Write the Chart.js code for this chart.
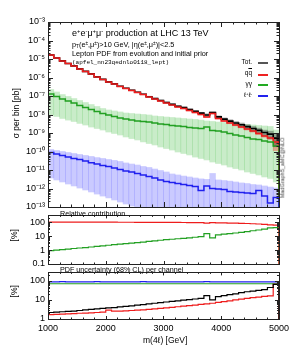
<!DOCTYPE html>
<html><head><meta charset="utf-8">
<script src="https://cdn.jsdelivr.net/npm/chart.js@4.4.1/dist/chart.umd.min.js"></script>
<style>
html,body{margin:0;padding:0;background:#fff;width:293px;height:351px;overflow:hidden;}
#wrap{position:relative;width:293px;height:351px;font-family:"Liberation Sans",Arial,Helvetica,sans-serif;color:#000;}
canvas{position:absolute;left:0;}
.t{position:absolute;white-space:nowrap;line-height:1;}
.t sup{font-size:65%;vertical-align:0.5em;line-height:0;}
.t sub{font-size:65%;vertical-align:-0.25em;line-height:0;}
.rot{transform:rotate(-90deg);transform-origin:center center;}
.lg{position:absolute;height:2px;width:10px;}
</style></head><body><div id="wrap">
<canvas id="c1" width="293" height="216" style="top:0px;width:293px;height:216px"></canvas>
<canvas id="c2" width="293" height="66" style="top:207px;width:293px;height:66px"></canvas>
<canvas id="c3" width="293" height="87" style="top:264px;width:293px;height:87px"></canvas>

<div class="t" style="left:72px;top:29px;font-size:9px;">e<sup>+</sup>e<sup>-</sup>μ<sup>+</sup>μ<sup>-</sup> production at LHC 13 TeV</div>
<div class="t" style="left:72px;top:41px;font-size:7.3px;">p<sub>T</sub>(e<sup>±</sup>,μ<sup>±</sup>)&gt;10 GeV, |η(e<sup>±</sup>,μ<sup>±</sup>)|&lt;2.5</div>
<div class="t" style="left:72px;top:49.5px;font-size:7.3px;">Lepton PDF from evolution and initial prior</div>
<div class="t" style="left:72px;top:60px;font-size:6px;font-family:'Liberation Mono','DejaVu Sans Mono',monospace;">(apfel_nn23qednlo0118_lept)</div>

<div class="t" style="right:41px;top:59px;font-size:6.5px;">Tot.</div>
<div class="lg" style="left:258px;top:62px;background:#555;"></div>
<div class="t" style="right:41px;top:70px;font-size:6.5px;">q<span style="text-decoration:overline">q</span></div>
<div class="lg" style="left:258px;top:74px;background:#ee2222;"></div>
<div class="t" style="right:41px;top:81px;font-size:6.5px;">γγ</div>
<div class="lg" style="left:258px;top:84px;background:#22aa22;"></div>
<div class="t" style="right:41px;top:92px;font-size:6.5px;">ℓ<sup>+</sup>ℓ<sup>-</sup></div>
<div class="lg" style="left:258px;top:95px;background:#2222ee;"></div>

<div class="t" style="left:60px;top:209.5px;font-size:7.2px;">Relative contribution</div>
<div class="t" style="left:60px;top:265.5px;font-size:7.2px;">PDF uncertainty (68% CL) per channel</div>

<div class="t rot" style="left:-12px;top:109px;width:56px;text-align:center;font-size:8.5px;">σ per bin [pb]</div>
<div class="t rot" style="left:4px;top:231px;width:20px;text-align:center;font-size:8.5px;">[%]</div>
<div class="t rot" style="left:4px;top:287px;width:20px;text-align:center;font-size:8.5px;">[%]</div>
<div class="t" style="left:143px;top:336px;font-size:8.5px;">m(4ℓ) [GeV]</div>
<div class="t rot" style="left:248px;top:165px;width:70px;text-align:center;font-size:5.5px;color:#444;">MadGraph5_aMC@NLO</div>
</div>
<script>
// ---------------- data ----------------
const binLow = [1000,1100,1200,1300,1400,1500,1600,1700,1800,1900,2000,2100,2200,2300,2400,2500,2600,2700,2800,2900,
                3000,3100,3200,3300,3400,3500,3600,3700,3800,3900,4000,4100,4200,4300,4400,4500,4600,4700,4800,4900];
const binWidth = 100;
const xTickLabels = ['1000','2000','3000','4000','5000'];
const xTickValues = [1000,2000,3000,4000,5000];

// sigma per bin [pb]
const sigTot = [1.65e-5,1.14e-5,7.87e-6,5.75e-6,4.24e-6,2.91e-6,2.13e-6,1.57e-6,1.075e-6,7.91e-7,
                5.79e-7,4.53e-7,3.34e-7,2.6e-7,2.03e-7,1.59e-7,1.24e-7,9.19e-8,7.25e-8,5.71e-8,
                4.49e-8,3.52e-8,2.78e-8,2.34e-8,1.84e-8,1.47e-8,1.18e-8,9.4e-9,1.27e-8,7.4e-9,
                5.6e-9,4.41e-9,3.48e-9,2.8e-9,2.21e-9,1.75e-9,1.39e-9,1.06e-9,8.7e-10,5.3e-10];
const sigQQ  = [1.64e-5,1.13e-5,7.8e-6,5.7e-6,4.2e-6,2.88e-6,2.11e-6,1.55e-6,1.06e-6,7.8e-7,
                5.7e-7,4.45e-7,3.27e-7,2.54e-7,1.98e-7,1.55e-7,1.2e-7,8.8e-8,6.9e-8,5.4e-8,
                4.2e-8,3.27e-8,2.54e-8,2.11e-8,1.64e-8,1.28e-8,1.0e-8,7.3e-9,1.13e-8,6.1e-9,
                4.45e-9,3.47e-9,2.7e-9,2.11e-9,1.64e-9,1.28e-9,9.4e-10,6.9e-10,5.4e-10,3.27e-10];
const sigAA  = [1.28e-7,9.4e-8,6.9e-8,5.4e-8,4.2e-8,3.06e-8,2.39e-8,1.86e-8,1.45e-8,1.13e-8,
                9.4e-9,7.8e-9,6.5e-9,5.7e-9,5.05e-9,4.45e-9,4.19e-9,3.94e-9,3.47e-9,3.06e-9,
                2.88e-9,2.54e-9,2.39e-9,2.25e-9,1.98e-9,1.86e-9,1.75e-9,2.11e-9,1.36e-9,1.28e-9,
                1.13e-9,9.4e-10,7.8e-10,6.9e-10,5.7e-10,4.74e-10,4.45e-10,3.7e-10,3.27e-10,2.0e-10];
const sigLL  = [8.8e-11,7.3e-11,6.1e-11,5.0e-11,4.2e-11,3.7e-11,3.1e-11,2.5e-11,2.1e-11,1.75e-11,
                1.55e-11,1.28e-11,1.06e-11,8.8e-12,7.8e-12,6.5e-12,5.4e-12,4.45e-12,3.7e-12,2.9e-12,
                2.4e-12,2.1e-12,1.86e-12,1.64e-12,1.45e-12,1.28e-12,7.8e-13,1.37e-12,1.0e-12,9.4e-13,
                8.8e-13,6.9e-13,6.5e-13,6.1e-13,5.7e-13,5.4e-13,7.8e-13,3.9e-13,1.64e-13,3.3e-13];
// 68% CL bands
const aaLow  = [9.4e-9,7.8e-9,6.1e-9,5.0e-9,4.2e-9,3.3e-9,2.7e-9,2.1e-9,1.75e-9,1.45e-9,
                1.13e-9,9.4e-10,7.8e-10,6.1e-10,5.0e-10,4.2e-10,3.3e-10,2.7e-10,2.25e-10,1.75e-10,
                1.45e-10,1.2e-10,9.4e-11,7.8e-11,6.5e-11,5.0e-11,4.2e-11,3.5e-11,2.7e-11,2.25e-11,
                1.86e-11,1.45e-11,1.2e-11,1.0e-11,7.8e-12,6.5e-12,5.4e-12,4.2e-12,3.5e-12,2.25e-12];
const aaHigh = [2.25e-7,1.65e-7,1.2e-7,9.4e-8,7.3e-8,5.7e-8,4.45e-8,3.47e-8,2.71e-8,2.11e-8,
                1.75e-8,1.55e-8,1.37e-8,1.2e-8,1.13e-8,1.06e-8,1.0e-8,9.4e-9,8.3e-9,7.8e-9,
                7.3e-9,6.9e-9,6.5e-9,6.1e-9,5.7e-9,5.4e-9,5.0e-9,4.45e-9,4.2e-9,3.9e-9,
                3.7e-9,3.5e-9,3.26e-9,3.06e-9,2.88e-9,2.71e-9,2.54e-9,2.39e-9,2.25e-9,1.45e-9];
const llLow  = [3.7e-12,2.9e-12,2.25e-12,1.75e-12,1.37e-12,1.06e-12,8.3e-13,6.5e-13,5.0e-13,3.9e-13,
                3.1e-13,2.4e-13,1.86e-13,1.45e-13,1.13e-13,1e-14,1e-14,1e-14,1e-14,1e-14,
                1e-14,1e-14,1e-14,1e-14,1e-14,1e-14,1e-14,1e-14,1e-14,1e-14,
                1e-14,1e-14,1e-14,1e-14,1e-14,1e-14,1e-14,1e-14,1e-14,1e-14];
const llHigh = [1.28e-10,1.13e-10,1.0e-10,8.8e-11,7.8e-11,6.9e-11,6.1e-11,5.4e-11,4.7e-11,4.2e-11,
                3.7e-11,3.3e-11,2.9e-11,2.4e-11,2.1e-11,1.86e-11,1.55e-11,1.37e-11,1.13e-11,9.4e-12,
                7.8e-12,6.1e-12,5.4e-12,4.7e-12,4.2e-12,3.7e-12,3.3e-12,3.1e-12,6.5e-12,2.9e-12,
                2.7e-12,2.5e-12,2.25e-12,2.0e-12,1.86e-12,1.64e-12,1.55e-12,1.37e-12,1.2e-12,1.06e-12];
// relative contribution [%]
const relQQ = [99.1,99.0,98.9,98.8,98.7,98.6,98.5,98.3,98.2,98.0,97.8,97.6,97.4,97.1,96.9,96.6,96.3,95.9,95.5,95.0,
               94.5,94.1,93.6,93.1,92.5,91.8,91.0,85,92.5,88,86.5,85,83.5,81.5,79,76,73,69,62,60];
const relAA = [0.9,0.98,1.07,1.17,1.28,1.4,1.5,1.65,1.8,2.0,2.2,2.4,2.6,2.85,3.1,3.4,3.7,4.1,4.5,5.0,
               5.5,5.9,6.4,6.9,7.5,8.2,9.0,15,7.5,12,13.5,15,16.5,18.5,21,24,27,31,38,40];
// PDF uncertainty (68% CL) [%]
const pdfTot = [2.2,2.3,2.4,2.5,2.6,2.8,3.0,3.2,3.4,3.6,3.8,4.0,4.3,4.6,4.9,5.3,5.7,6.2,6.7,7.2,
                7.8,8.4,9.0,9.7,10.4,11.2,12,17,10,15,17,19,21,24,27,29,32,35,45,66];
const pdfQQ  = [1.7,1.75,1.8,1.85,1.9,2.0,2.05,2.1,2.2,2.3,2.9,2.6,2.6,2.7,2.8,2.9,3.0,3.2,3.4,3.6,
                3.8,4.1,4.4,4.7,5.0,5.4,5.8,6.2,6.7,7.4,8.2,9.0,10,11,12,13.2,14.2,15.3,16.5,66];
const pdfAA  = [71,71,71,71,71,71,71,71,71,71,71,71,71,71,71,71,71,71,71,71,
                71,71,71,71,71,71,71,71,71,71,71,71,71,71,71,71,71,71,71,71];
const pdfLL  = [90,90,91,90,90,89,90,90,91,90,90,90,89,90,90,90,91,90,90,90,
                90,90,90,89,90,90,90,91,90,90,90,90,90,90,89,90,90,90,90,90];

const mainTicks = [1e-13,1e-12,1e-11,1e-10,1e-9,1e-8,1e-7,1e-6,1e-5,1e-4,1e-3];
const mainTickLabels = ['10⁻¹³','10⁻¹²','10⁻¹¹','10⁻¹⁰','10⁻⁹','10⁻⁸','10⁻⁷','10⁻⁶','10⁻⁵','10⁻⁴','10⁻³'];
const relTicks = [0.1,1,10,100];
const relTickLabels = ['0.1','1','10','100'];
const pdfTicks = [1,10,100];
const pdfTickLabels = ['1','10','100'];

// ---------------- helpers ----------------
const FONT = "'Liberation Sans', Arial, sans-serif";
const XMIN = 1000, XMAX = 5000, FLOOR = 1e-30;
const C_TOT = '#000000', C_QQ = '#ee1c1c', C_AA = '#22a022', C_LL = '#2020ee';

function steps(vals){
  const d = [{x: binLow[0], y: FLOOR}];
  vals.forEach((v,i)=>d.push({x: binLow[i], y: v}));
  d.push({x: XMAX, y: vals[vals.length-1]});
  d.push({x: XMAX, y: FLOOR});
  return d;
}
function lineDs(vals, color, w, order){
  return {type:'line', data: steps(vals), borderColor: color, borderWidth: w, pointRadius: 0,
          stepped: true, fill: false, order: order, borderJoinStyle:'miter'};
}
function bandDs(lo, hi, color, order){
  return {type:'bar', data: lo.map((l,i)=>({x: binLow[i] + binWidth/2, y: [l, hi[i]]})),
          backgroundColor: color, borderWidth: 0, grouped: false, barPercentage: 1, categoryPercentage: 1, order: order};
}
function relBand(vals, unc, sign){ return vals.map((v,i)=>v*(1 + sign*unc[i]/100)); }

function framePlugin(cfg){
  return {id:'frame', afterDraw(chart){
    const {ctx, chartArea:a, scales} = chart; const x = scales.x, y = scales.y;
    ctx.save(); ctx.strokeStyle = '#222'; ctx.lineWidth = 1;
    const seg = (x1,y1,x2,y2)=>{ctx.beginPath();ctx.moveTo(x1,y1);ctx.lineTo(x2,y2);ctx.stroke();};
    for (let v = XMIN; v <= XMAX; v += 200){
      const px = Math.round(x.getPixelForValue(v)) + 0.5;
      const L = (v % 1000 === 0) ? cfg.xMaj : cfg.xMin;
      seg(px, a.bottom, px, a.bottom - L); seg(px, a.top, px, a.top + L);
    }
    const e0 = Math.floor(Math.log10(y.min)), e1 = Math.ceil(Math.log10(y.max));
    for (let e = e0; e <= e1; e++){
      for (let k = 1; k <= 9; k++){
        const v = k * Math.pow(10, e);
        if (v < y.min * 0.999 || v > y.max * 1.001) continue;
        const py = Math.round(y.getPixelForValue(v)) + 0.5;
        const L = k === 1 ? cfg.yMaj : cfg.yMin;
        seg(a.left, py, a.left + L, py); seg(a.right, py, a.right - L, py);
      }
    }
    ctx.strokeRect(Math.round(a.left)+0.5, Math.round(a.top)+0.5, Math.round(a.right)-Math.round(a.left), Math.round(a.bottom)-Math.round(a.top));
    ctx.restore();
  }};
}

function makeChart(id, datasets, yo, pad, showX, tk){
  return new Chart(document.getElementById(id), {
    type: 'line',
    data: {datasets},
    options: {
      responsive: false, maintainAspectRatio: false, animation: false, devicePixelRatio: 1,
      layout: {padding: pad},
      plugins: {legend: {display: false}, tooltip: {enabled: false}},
      scales: {
        x: {type: 'linear', min: XMIN, max: XMAX, display: showX, offset: false,
            grid: {display: false, drawTicks: false, offset: false}, border: {display: false},
            afterBuildTicks: s => { s.ticks = xTickValues.map(v => ({value: v})); },
            afterFit: s => { s.height = showX ? 32 : 0; },
            ticks: {padding: 4, autoSkip: false, maxRotation: 0, color: '#000',
                    font: {size: 9, family: FONT}, callback: (v, i) => xTickLabels[i]}},
        y: {type: 'logarithmic', min: yo.min, max: yo.max,
            grid: {display: false, drawTicks: false}, border: {display: false},
            afterFit: s => { s.width = 48; },
            afterBuildTicks: s => { s.ticks = yo.ticks.map(v => ({value: v})); },
            ticks: {padding: 3, autoSkip: false, color: '#000',
                    font: {size: 9, family: FONT}, callback: (v, i) => yo.labels[i]}}
      }
    },
    plugins: [framePlugin(tk)]
  });
}

// ---------------- charts ----------------
makeChart('c1', [
  lineDs(sigLL, C_LL, 1.5, 1),
  lineDs(sigAA, C_AA, 1.5, 2),
  lineDs(sigQQ, C_QQ, 1.6, 3),
  lineDs(sigTot, C_TOT, 1.6, 4),
  bandDs(relBand(sigTot, pdfTot, -1), relBand(sigTot, pdfTot, 1), 'rgba(0,0,0,0.3)', 5),
  bandDs(relBand(sigQQ, pdfQQ, -1), relBand(sigQQ, pdfQQ, 1), 'rgba(255,0,0,0.3)', 6),
  bandDs(llLow, llHigh, 'rgba(60,60,255,0.27)', 7),
  bandDs(aaLow, aaHigh, 'rgba(40,180,40,0.25)', 8)
], {min: 1e-13, max: 1e-3, ticks: mainTicks, labels: mainTickLabels},
   {top: 22, right: 14, bottom: 9, left: 0}, false, {xMaj: 5, xMin: 2.5, yMaj: 5, yMin: 2.5});

makeChart('c2', [
  lineDs(relQQ, C_QQ, 1.2, 1),
  lineDs(relAA, C_AA, 1.2, 2)
], {min: 0.1, max: 300, ticks: relTicks, labels: relTickLabels},
   {top: 1, right: 14, bottom: 9, left: 0}, false, {xMaj: 3, xMin: 1.5, yMaj: 4, yMin: 2});

makeChart('c3', [
  lineDs(pdfTot, C_TOT, 1.2, 1),
  lineDs(pdfQQ, C_QQ, 1.2, 2),
  lineDs(pdfAA, C_AA, 1.2, 3),
  lineDs(pdfLL, C_LL, 1.2, 4)
], {min: 1, max: 280, ticks: pdfTicks, labels: pdfTickLabels},
   {top: 0, right: 14, bottom: 0, left: 0}, true, {xMaj: 3, xMin: 1.5, yMaj: 4, yMin: 2});
</script>
</body></html>
